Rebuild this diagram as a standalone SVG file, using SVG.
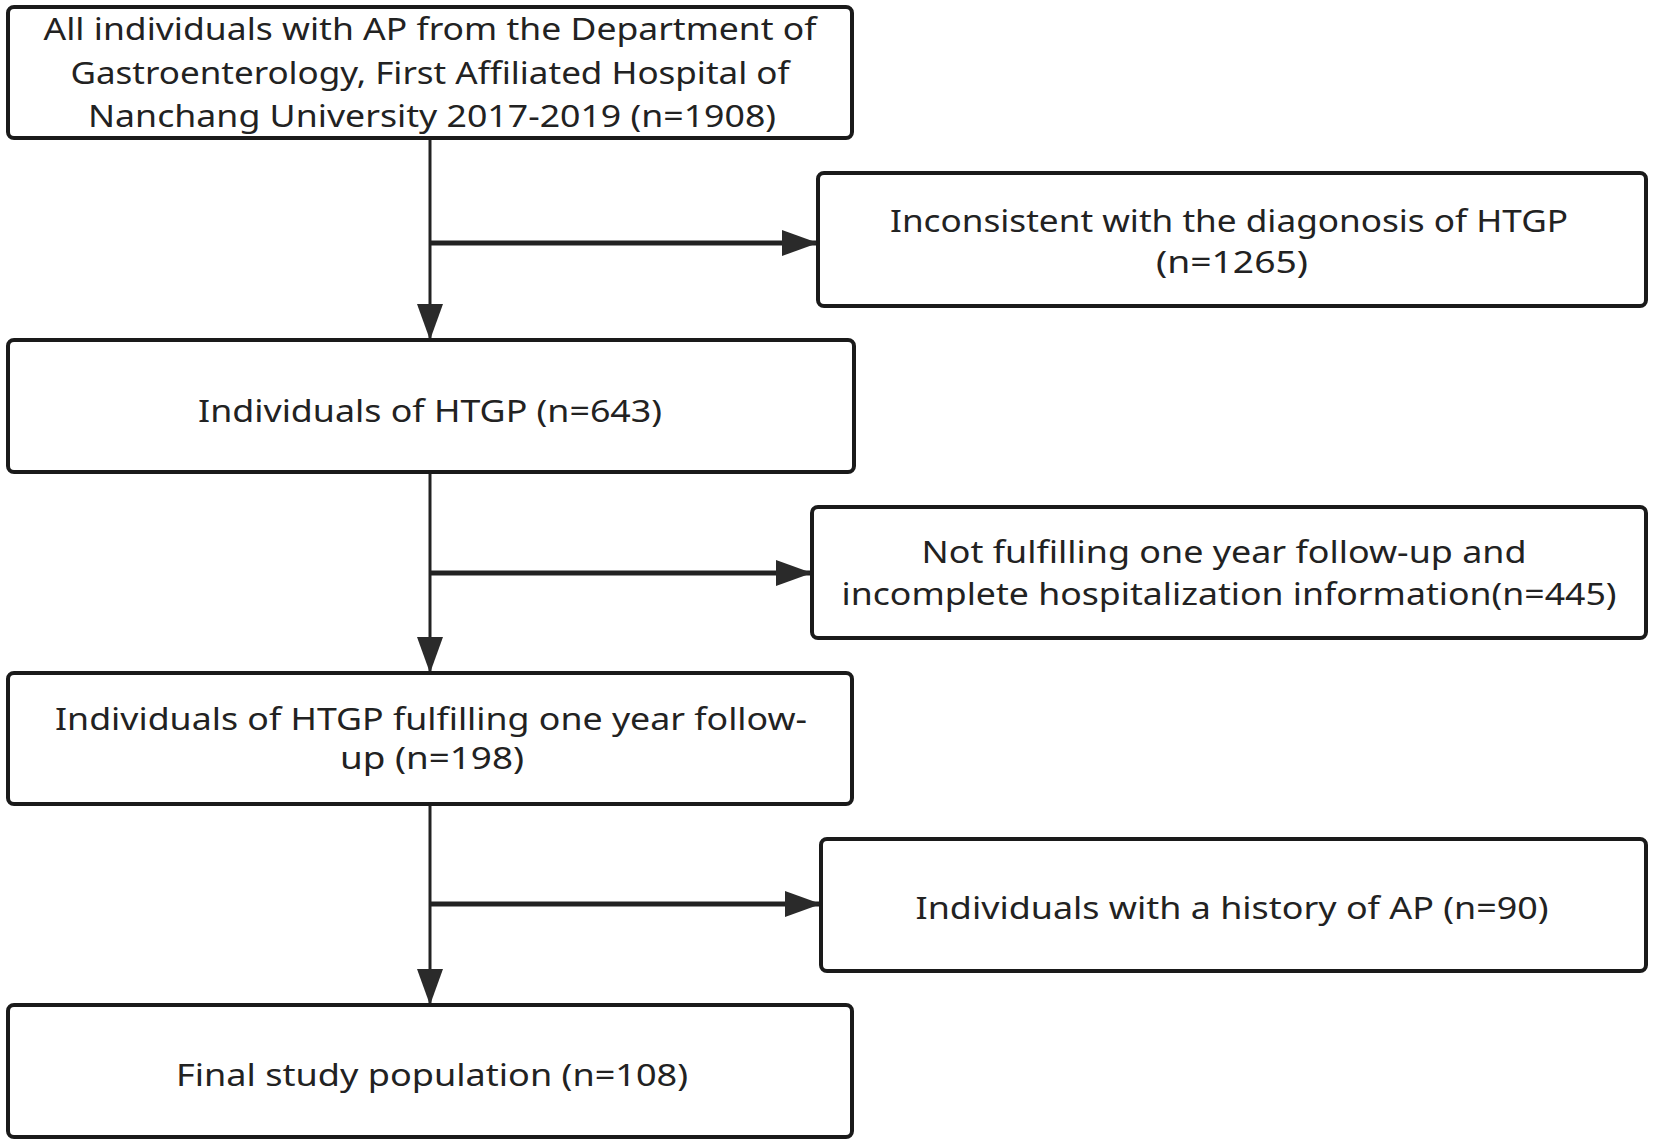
<svg xmlns="http://www.w3.org/2000/svg" width="1654" height="1147" viewBox="0 0 1654 1147">
<style>
.box{fill:#fff;stroke:#1a1a1a;stroke-width:4}
.t{font-family:"Noto Sans","Open Sans",sans-serif;font-size:31px;fill:#222;text-anchor:middle}
.v{stroke:#222;stroke-width:3;fill:none}
.h{stroke:#222;stroke-width:5;fill:none}
</style>
<defs>
<marker id="ah" viewBox="0 0 36 26" refX="36" refY="13" markerWidth="36" markerHeight="26" markerUnits="userSpaceOnUse" orient="auto">
<path d="M0,0 L36,13 L0,26 z" fill="#2a2a2a"/>
</marker>
</defs>
<rect width="1654" height="1147" fill="#fff"/>
<g id="connectors">
<line class="v" x1="430" y1="138" x2="430" y2="340" marker-end="url(#ah)"/>
<line class="h" x1="430" y1="243" x2="818" y2="243" marker-end="url(#ah)"/>
<line class="v" x1="430" y1="472" x2="430" y2="673" marker-end="url(#ah)"/>
<line class="h" x1="430" y1="573" x2="812" y2="573" marker-end="url(#ah)"/>
<line class="v" x1="430" y1="804" x2="430" y2="1005" marker-end="url(#ah)"/>
<line class="h" x1="430" y1="904" x2="821" y2="904" marker-end="url(#ah)"/>
</g>
<g id="n1">
<rect class="box" x="8" y="7" width="844" height="131" rx="6"/>
<text class="t" x="430" y="40" textLength="773" lengthAdjust="spacingAndGlyphs">All individuals with AP from the Department of</text>
<text class="t" x="430" y="84" textLength="719" lengthAdjust="spacingAndGlyphs">Gastroenterology, First Affiliated Hospital of</text>
<text class="t" x="432" y="127" textLength="688" lengthAdjust="spacingAndGlyphs">Nanchang University 2017-2019 (n=1908)</text>
</g>
<g id="n2">
<rect class="box" x="818" y="173" width="828" height="133" rx="6"/>
<text class="t" x="1229" y="232" textLength="678" lengthAdjust="spacingAndGlyphs">Inconsistent with the diagonosis of HTGP</text>
<text class="t" x="1232" y="273" textLength="152" lengthAdjust="spacingAndGlyphs">(n=1265)</text>
</g>
<g id="n3">
<rect class="box" x="8" y="340" width="846" height="132" rx="6"/>
<text class="t" x="430" y="422" textLength="464" lengthAdjust="spacingAndGlyphs">Individuals of HTGP (n=643)</text>
</g>
<g id="n4">
<rect class="box" x="812" y="507" width="834" height="131" rx="6"/>
<text class="t" x="1224" y="563" textLength="605" lengthAdjust="spacingAndGlyphs">Not fulfilling one year follow-up and</text>
<text class="t" x="1229" y="605" textLength="775" lengthAdjust="spacingAndGlyphs">incomplete hospitalization information(n=445)</text>
</g>
<g id="n5">
<rect class="box" x="8" y="673" width="844" height="131" rx="6"/>
<text class="t" x="431" y="730" textLength="752" lengthAdjust="spacingAndGlyphs">Individuals of HTGP fulfilling one year follow-</text>
<text class="t" x="432" y="769" textLength="184" lengthAdjust="spacingAndGlyphs">up (n=198)</text>
</g>
<g id="n6">
<rect class="box" x="821" y="839" width="825" height="132" rx="6"/>
<text class="t" x="1232" y="919" textLength="633" lengthAdjust="spacingAndGlyphs">Individuals with a history of AP (n=90)</text>
</g>
<g id="n7">
<rect class="box" x="8" y="1005" width="844" height="132" rx="6"/>
<text class="t" x="432" y="1086" textLength="512" lengthAdjust="spacingAndGlyphs">Final study population (n=108)</text>
</g>
</svg>
